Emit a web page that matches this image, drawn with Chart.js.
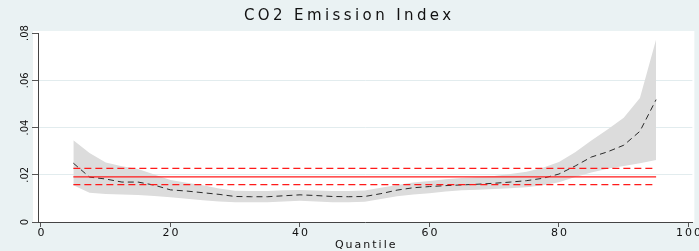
<!DOCTYPE html>
<html>
<head>
<meta charset="utf-8">
<script src="https://cdn.jsdelivr.net/npm/chart.js@4/dist/chart.umd.min.js"></script>
<style>
html,body{margin:0;padding:0;background:#eaf2f3;}
#wrap{width:699px;height:251px;}
</style>
</head>
<body>
<div id="wrap"><canvas id="c" width="699" height="251"></canvas></div>
<script>
// ---- data ----
const quantiles = [5,7.5,10,12.5,15,17.5,20,22.5,25,27.5,30,32.5,35,37.5,40,42.5,45,47.5,50,52.5,55,57.5,60,62.5,65,67.5,70,72.5,75,77.5,80,82.5,85,87.5,90,92.5,95];
const estimate = [.0249,.0190,.0182,.0169,.0169,.0156,.0136,.0131,.0124,.0117,.0108,.0107,.0107,.0111,.0115,.0112,.0108,.0107,.0108,.0120,.0135,.0145,.0150,.0154,.0157,.0160,.0164,.0169,.0175,.0185,.0203,.0237,.0275,.0297,.0325,.0384,.0518];
const ciUpper = [.0346,.0292,.0252,.0236,.0224,.0201,.0178,.0166,.0156,.0142,.0132,.0131,.0131,.0134,.0135,.0133,.0131,.0131,.0133,.0145,.0157,.0167,.0174,.0181,.0186,.0190,.0195,.0203,.0213,.0230,.0254,.0295,.0345,.0392,.0441,.0525,.0773];
const ciLower = [.0156,.0124,.0118,.0116,.0114,.0110,.0105,.0098,.0092,.0087,.0084,.0084,.0084,.0087,.0090,.0087,.0084,.0084,.0086,.0097,.0109,.0116,.0122,.0129,.0134,.0137,.0140,.0143,.0147,.0156,.0168,.0190,.0210,.0225,.0237,.0249,.0262];
const olsRange = [5, 95];
const olsEstimate = 0.0191;
const olsUpper = 0.0227;
const olsLower = 0.0158;
const xTicks = [0,20,40,60,80,100];
const yTicks = [0,0.02,0.04,0.06,0.08];
const titleText = 'CO2 Emission Index';
const xTitle = 'Quantile';

// ---- canvas / text spacing to mimic the stretched lettering ----
const canvas = document.getElementById('c');
const ctx = canvas.getContext('2d');
const origFill = ctx.fillText;
ctx.fillText = function(text, x, y, maxWidth) {
  const t = this.getTransform();
  const rotated = Math.abs(t.b) > 1e-6;
  const m = /(\d+(?:\.\d+)?)px/.exec(this.font);
  const size = m ? parseFloat(m[1]) : 10;
  const sp = rotated ? 0 : (size >= 13 ? 3.4 : 2);
  const prev = this.letterSpacing;
  this.letterSpacing = sp + 'px';
  let xx = x;
  if (this.textAlign === 'center') xx += sp / 2;
  if (maxWidth === undefined || maxWidth === null) origFill.call(this, text, xx, y);
  else origFill.call(this, text, xx, y, maxWidth);
  this.letterSpacing = prev;
};

const pts = (xs, ys) => xs.map((x, i) => ({x: x, y: ys[i]}));
const flat = (v) => olsRange.map(x => ({x: x, y: v}));

const bgPlugin = {
  id: 'bg',
  beforeDraw(chart) {
    const c = chart.ctx;
    const a = chart.chartArea;
    c.save();
    c.fillStyle = '#eaf2f3';
    c.fillRect(0, 0, chart.width, chart.height);
    c.fillStyle = '#ffffff';
    c.fillRect(a.left - 5, a.top - 2, a.right - a.left + 7, a.bottom - a.top + 2);
    c.restore();
  }
};

new Chart(ctx, {
  type: 'line',
  data: {
    datasets: [
      {label: 'ci upper', data: pts(quantiles, ciUpper), borderWidth: 0, pointRadius: 0, backgroundColor: '#dcdcdc', borderColor: 'rgba(0,0,0,0)', fill: '+1', tension: 0},
      {label: 'ci lower', data: pts(quantiles, ciLower), borderWidth: 0, pointRadius: 0, borderColor: 'rgba(0,0,0,0)', fill: false, tension: 0},
      {label: 'ols upper', data: flat(olsUpper), borderColor: '#ff1a1a', borderWidth: 1.2, borderDash: [7, 4], pointRadius: 0, fill: false},
      {label: 'ols', data: flat(olsEstimate), borderColor: '#ff1a1a', borderWidth: 1.2, pointRadius: 0, fill: false},
      {label: 'ols lower', data: flat(olsLower), borderColor: '#ff1a1a', borderWidth: 1.2, borderDash: [7, 4], pointRadius: 0, fill: false},
      {label: 'quantile', data: pts(quantiles, estimate), borderColor: '#2a2a2a', borderWidth: 1, borderDash: [6, 4], pointRadius: 0, fill: false, tension: 0}
    ]
  },
  options: {
    responsive: false,
    animation: false,
    events: [],
    layout: {autoPadding: false, padding: {left: 0, right: 4, top: 0, bottom: 0}},
    plugins: {
      legend: {display: false},
      tooltip: {enabled: false},
      filler: {drawTime: 'beforeDatasetsDraw'},
      title: {
        display: true, text: titleText, color: '#111',
        font: {family: 'DejaVu Sans', size: 15, weight: 'normal', lineHeight: 1.2},
        padding: {top: 7, bottom: 8}
      }
    },
    scales: {
      x: {
        type: 'linear', min: -0.46, max: 100.6,
        afterBuildTicks(scale) { scale.ticks = xTicks.map(v => ({value: v})); },
        afterFit(scale) { scale.height = 29; },
        ticks: {
          includeBounds: false, autoSkip: false, maxRotation: 0, minRotation: 0,
          color: '#111', padding: 0,
          font: {family: 'DejaVu Sans', size: 11},
          callback: (v) => String(v)
        },
        grid: {drawOnChartArea: false, drawTicks: true, tickLength: 5, tickColor: '#555', tickWidth: 1},
        border: {display: true, color: '#444', width: 1},
        title: {
          display: true, text: xTitle, color: '#111',
          font: {family: 'DejaVu Sans', size: 11, lineHeight: 1.1},
          padding: {top: 2, bottom: 0}
        }
      },
      y: {
        type: 'linear', min: 0, max: 0.08,
        afterBuildTicks(scale) { scale.ticks = yTicks.map(v => ({value: v})); },
        afterFit(scale) { scale.width = 38; },
        ticks: {
          minRotation: 90, maxRotation: 90, crossAlign: 'center', autoSkip: false,
          color: '#111', padding: -1,
          font: {family: 'DejaVu Sans', size: 10},
          callback: (v) => v === 0 ? '0' : Number(v).toFixed(2).replace(/^0/, '')
        },
        grid: {
          drawOnChartArea: true, drawTicks: true, tickLength: 6, tickColor: '#555', tickWidth: 1,
          color: (c) => (c.index === 0 || c.index === yTicks.length - 1) ? 'rgba(0,0,0,0)' : '#e2ecee',
          lineWidth: 1
        },
        border: {display: true, color: '#444', width: 1}
      }
    }
  },
  plugins: [bgPlugin]
});
</script>
</body>
</html>
